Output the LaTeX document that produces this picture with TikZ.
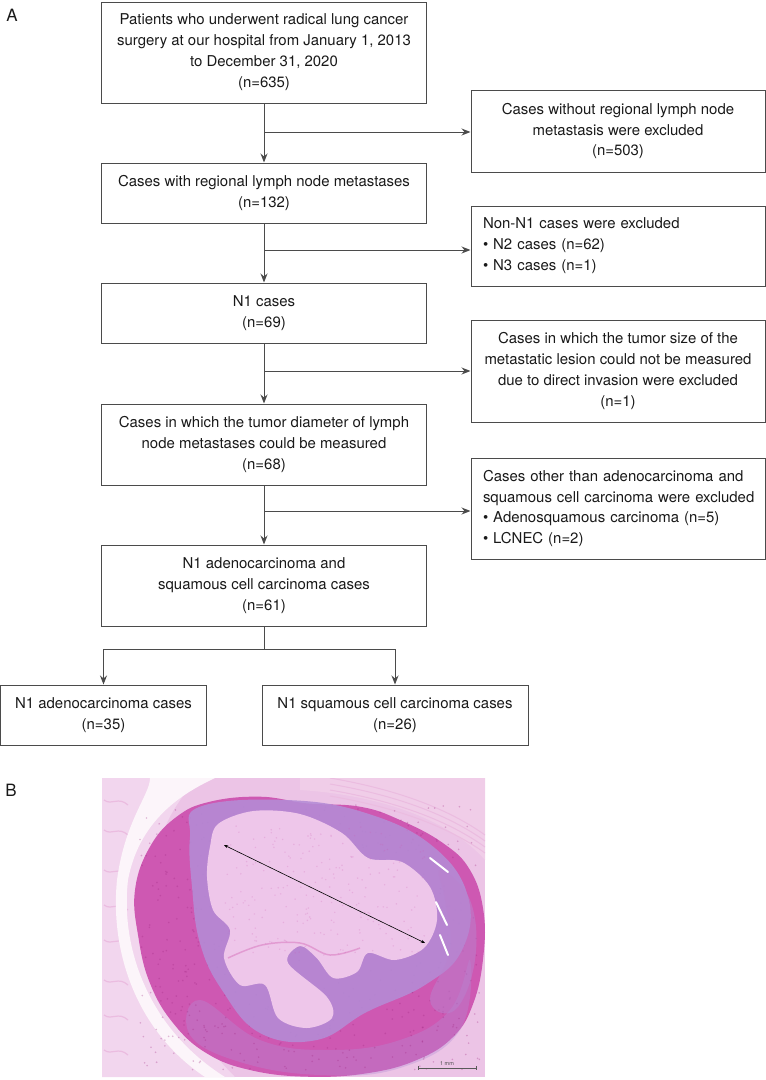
\documentclass[tikz,border=0pt]{standalone}
\usepackage{fontspec}
\setmainfont{TeX Gyre Heros}
\usetikzlibrary{arrows.meta,calc}
\definecolor{boxgray}{RGB}{75,75,75}
\definecolor{txt}{RGB}{25,25,25}
\definecolor{bgpink}{RGB}{236,196,230}
\definecolor{palebg}{RGB}{242,214,238}
\definecolor{magen}{RGB}{206,88,178}
\definecolor{lilac}{RGB}{180,140,214}
\definecolor{centre}{RGB}{238,198,234}
\definecolor{dotc}{RGB}{160,40,130}
\begin{document}
\begin{tikzpicture}[x=1bp,y=-1bp,
  box/.style={draw=boxgray, line width=1bp, align=center, inner sep=0pt, text=txt,
    font=\fontsize{15}{21}\selectfont},
  lbox/.style={box, align=left, text width=270bp},
  arr/.style={-{Stealth[length=9bp,width=7bp]}, line width=1bp, draw=boxgray},
  ln/.style={line width=1bp, draw=boxgray},
  lab/.style={font=\fontsize{17}{20}\selectfont, text=txt, inner sep=0pt}]
\useasboundingbox (0,0) rectangle (766,1080);

% panel labels
\node[lab] (labA) at (12,15.5) {A};
\node[lab] (labB) at (11,790) {B};

% main column
\node[box, minimum width=324bp, minimum height=101bp] (b1) at (264,52.5)
  {Patients who underwent radical lung cancer\\surgery at our hospital from January 1, 2013\\to December 31, 2020\\(n=635)};
\node[box, minimum width=324bp, minimum height=60bp] (b2) at (264,193)
  {Cases with regional lymph node metastases\\(n=132)};
\node[box, minimum width=324bp, minimum height=60bp] (b3) at (264,313)
  {N1 cases\\(n=69)};
\node[box, minimum width=324bp, minimum height=81bp] (b4) at (264,444.5)
  {Cases in which the tumor diameter of lymph\\node metastases could be measured\\(n=68)};
\node[box, minimum width=324bp, minimum height=81bp] (b5) at (264,585.5)
  {N1 adenocarcinoma and\\squamous cell carcinoma cases\\(n=61)};

% exclusion column
\node[box, minimum width=294bp, minimum height=82bp] (r1) at (618,131)
  {Cases without regional lymph node\\metastasis were excluded\\(n=503)};
\node[lbox, minimum width=294bp, minimum height=80bp] (r2) at (618,246)
  {\mbox{Non-N1 cases were excluded}\\\mbox{• N2 cases (n=62)}\\\mbox{• N3 cases (n=1)}};
\node[box, minimum width=294bp, minimum height=102bp] (r3) at (618,371)
  {Cases in which the tumor size of the\\metastatic lesion could not be measured\\due to direct invasion were excluded\\(n=1)};
\node[lbox, minimum width=294bp, minimum height=101bp] (r4) at (618,508.5)
  {\mbox{Cases other than adenocarcinoma and}\\\mbox{squamous cell carcinoma were excluded}\\\mbox{• Adenosquamous carcinoma (n=5)}\\\mbox{• LCNEC (n=2)}};

% final groups
\node[box, minimum width=205bp, minimum height=60bp] (g1) at (103.5,715)
  {N1 adenocarcinoma cases\\(n=35)};
\node[box, minimum width=266bp, minimum height=60bp] (g2) at (395,715)
  {N1 squamous cell carcinoma cases\\(n=26)};

% connectors
\coordinate (c1) at (264,132);
\coordinate (c2) at (264,250);
\coordinate (c3) at (264,371);
\coordinate (c4) at (264,511);
\coordinate (c5) at (264,649);
\draw[arr] (b1.south) -- (b2.north);
\draw[arr] (b2.south) -- (b3.north);
\draw[arr] (b3.south) -- (b4.north);
\draw[arr] (b4.south) -- (b5.north);
\draw[arr] (c1) -- (c1 -| r1.west);
\draw[arr] (c2) -- (c2 -| r2.west);
\draw[arr] (c3) -- (c3 -| r3.west);
\draw[arr] (c4) -- (c4 -| r4.west);
\draw[ln] (b5.south) -- (c5);
\draw[arr] (c5) -| (g1.north);
\draw[arr] (c5) -| (g2.north);

% ---- panel B: histology section ----
\begin{scope}
\clip (102,778) rectangle (485,1077);
\fill[bgpink] (102,778) rectangle (485,1077);
% pale connective tissue on the left
\fill[palebg] (102,778) -- (200,778) .. controls (140,830) and (118,960) .. (235,1077) -- (102,1077) -- cycle;
\foreach \yy in {800,830,870,905,940,980,1015,1050}{
  \draw[magen!40, line width=1.2bp] (104,\yy) .. controls (112,\yy+6) and (118,\yy-4) .. (128,\yy+5);
}
% muscle fibres top right
\fill[magen!30] (300,778) -- (485,778) -- (485,860) .. controls (450,820) and (380,795) .. (300,790) -- cycle;
\foreach \k in {0,6,12,18}{
  \draw[white!60!magen, line width=1bp] (330,778+\k) .. controls (400,790+\k) and (450,810+\k) .. (485,835+\k);
}
% white gap around the node
\fill[white!94!magen] (150,778) -- (215,778) .. controls (190,790) and (140,815) .. (128,880)
  .. controls (120,950) and (150,1030) .. (225,1077) -- (205,1077)
  .. controls (135,1030) and (110,950) .. (117,880) .. controls (125,820) and (150,795) .. (150,778) -- cycle;
% lymph node body
\fill[magen] plot[smooth cycle, tension=0.7] coordinates
  {(210,801.7) (260,796.7) (306.7,803.3) (360,806.7) (400,820) (443.3,843.3) (470,870)
   (483.3,910) (483.3,956.7) (473.3,1003.3) (453.3,1036.7) (416.7,1060) (366.7,1073.3)
   (306.7,1076.7) (250,1070) (206.7,1053.3) (173.3,1023.3) (150,983.3) (138.3,936.7)
   (135,890) (150,846.7) (176.7,816.7)};
% bottom band slightly lilac
\fill[lilac, opacity=0.35] plot[smooth cycle, tension=0.7] coordinates
  {(200,1000) (260,1040) (330,1050) (400,1040) (450,1010) (470,960) (460,1030) (400,1068) (320,1075) (240,1062) (190,1035)};
% texture dots
\pgfmathsetseed{7}
\foreach \i in {1,...,650}{
  \pgfmathsetmacro{\px}{140+340*rnd}
  \pgfmathsetmacro{\py}{805+265*rnd}
  \fill[dotc, opacity=0.3] (\px,\py) circle (0.9bp);
}
% lilac ring
\fill[lilac, opacity=0.88] plot[smooth cycle, tension=0.7] coordinates
  {(200,806.7) (286.7,800) (366.7,813.3) (433.3,846.7) (468,896.7) (462,950)
   (425,985) (366.7,1012) (316.7,1040) (260,1033) (222,990) (200,943.3) (192,886.7) (190,836.7)};
\fill[lilac!80!magen, opacity=0.5] plot[smooth cycle, tension=0.7] coordinates
  {(440,870) (470,900) (475,960) (455,1010) (430,1000) (450,950) (445,900)};
% pale tumour centre
\fill[centre] plot[smooth cycle, tension=0.55] coordinates
  {(218,824) (253.3,811) (300,814) (342,833) (368,858) (402,862) (430,887)
   (437,920) (424,948) (395,960) (368,953) (357,972) (333.3,978) (316.7,958)
   (300,946) (288,963) (326.7,996.7) (332,1018) (306.7,1028) (278,1018)
   (265,985) (240,985) (224,958) (230,930) (213,910) (207,876.7) (210,846.7)};
\draw[magen!70, line width=1.5bp, opacity=0.7] plot[smooth, tension=0.6] coordinates
  {(228,958) (262,945) (300,943) (330,955) (360,948)};
\foreach \i in {1,...,220}{
  \pgfmathsetmacro{\px}{225+200*rnd}
  \pgfmathsetmacro{\py}{825+130*rnd}
  \fill[magen, opacity=0.22] (\px,\py) circle (0.8bp);
}
% white clefts on right
\foreach \a/\b in {{(430,858)}/{(448,872)}, {(436,902)}/{(447,925)}, {(440,935)}/{(448,955)}}{
  \draw[white, line width=2bp, line cap=round] \a -- \b;
}
\end{scope}
% measured diameter and scale bar
\coordinate (d1) at (224,845);
\coordinate (d2) at (425,943);
\draw[{Stealth[length=4bp,width=3bp]}-{Stealth[length=4bp,width=3bp]}, line width=0.6bp, black] (d1) -- (d2);
\coordinate (s1) at (418,1068);
\coordinate (s2) at (476,1068);
\draw[gray!70!black, line width=0.8bp] (s1) -- (s2);
\draw[gray!70!black, line width=0.6bp] ($(s1)+(0,-2)$) -- ($(s1)+(0,2)$) ($(s2)+(0,-2)$) -- ($(s2)+(0,2)$);
\node[font=\fontsize{5.5}{6}\selectfont, text=gray!60!black, inner sep=0pt] (sbl) at (447,1063.5) {1 mm};
\end{tikzpicture}
\end{document}
